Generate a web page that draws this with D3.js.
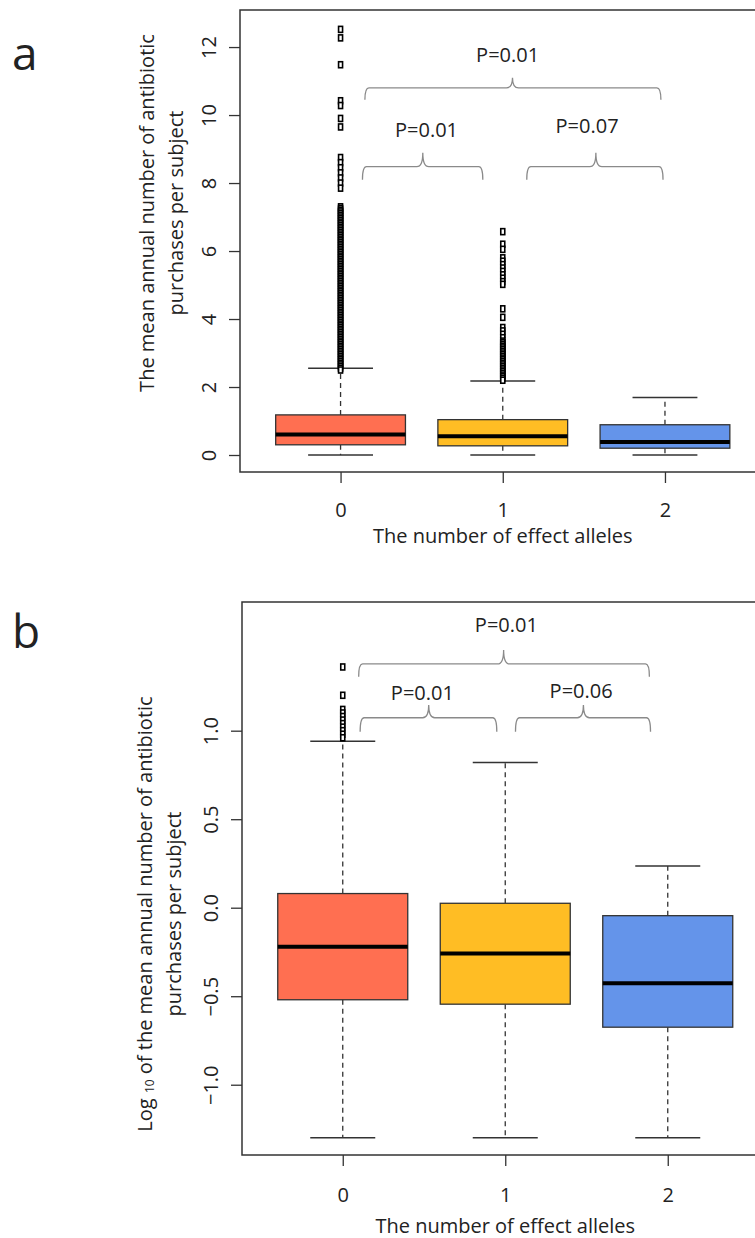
<!DOCTYPE html>
<html>
<head>
<meta charset="utf-8">
<script src="https://cdn.jsdelivr.net/npm/d3@7"></script>
<style>
  body { margin: 0; background: white; }
  text { font-family: "Open Sans", "Noto Sans", sans-serif; fill: #222; }
</style>
</head>
<body>
<div id="container"></div>
<script>
// Boxplots of antibiotic purchases by number of effect alleles (panels a and b)

const width = 755;
const height = 1238;

const groups = ["0", "1", "2"];

// panel a: raw mean annual purchases
const lowA = [0, 0, 0];
const q1A = [0.30, 0.27, 0.20];
const medA = [0.60, 0.55, 0.38];
const q3A = [1.18, 1.04, 0.89];
const highA = [2.55, 2.18, 1.69];
const outA0 = [12.52, 12.27, 11.48, 10.42, 10.28, 9.9, 9.65, 8.75, 8.6, 8.45, 8.3, 8.15, 8.0, 7.85,
  7.3, 7.25, 7.2, 7.15, 7.1, 7.05, 7.0, 6.95, 6.9, 6.85, 6.8, 6.75, 6.7, 6.65, 6.6, 6.55, 6.5,
  6.45, 6.4, 6.35, 6.3, 6.25, 6.2, 6.15, 6.1, 6.05, 6.0, 5.95, 5.9, 5.85, 5.8, 5.75, 5.7, 5.65,
  5.6, 5.55, 5.5, 5.45, 5.4, 5.35, 5.3, 5.25, 5.2, 5.15, 5.1, 5.05, 5.0, 4.95, 4.9, 4.85, 4.8,
  4.75, 4.7, 4.65, 4.6, 4.55, 4.5, 4.45, 4.4, 4.35, 4.3, 4.25, 4.2, 4.15, 4.1,
  4.05, 4.0, 3.95, 3.9, 3.85, 3.8, 3.75, 3.7, 3.65, 3.6, 3.55, 3.5, 3.45, 3.4, 3.35, 3.3, 3.25,
  3.2, 3.15, 3.1, 3.05, 3.0, 2.95, 2.9, 2.85, 2.8, 2.75, 2.7, 2.65, 2.6, 2.55, 2.5];
const outA1 = [6.57, 6.2, 6.05, 5.8, 5.7, 5.6, 5.5, 5.4, 5.3, 5.2, 5.1, 5.02, 4.3, 4.05, 3.75, 3.65,
  3.55, 3.45, 3.35, 3.3, 3.25, 3.2, 3.15, 3.1, 3.05, 3.0, 2.95, 2.9, 2.85, 2.8, 2.75, 2.7, 2.65,
  2.6, 2.55, 2.5, 2.45, 2.4, 2.35, 2.3, 2.25, 2.2];
const outA2 = [];
const yTicksA = [0, 2, 4, 6, 8, 10, 12];
const pValuesA = ["P=0.01", "P=0.01", "P=0.07"];

// panel b: log10 of the same
const lowB = [-1.30, -1.30, -1.30];
const q1B = [-0.52, -0.545, -0.675];
const medB = [-0.22, -0.258, -0.427];
const q3B = [0.08, 0.025, -0.045];
const highB = [0.94, 0.82, 0.236];
const outB0 = [1.36, 1.20, 1.12, 1.10, 1.08, 1.06, 1.04, 1.02, 1.00, 0.98, 0.96];
const outB1 = [];
const outB2 = [];
const yTicksB = [-1.0, -0.5, 0.0, 0.5, 1.0];
const pValuesB = ["P=0.01", "P=0.01", "P=0.06"];

const fills = ["#FF6F51", "#FFBD24", "#6494EA"];
const fontSize = "20px";

const svg = d3.select("#container")
  .append("svg")
  .attr("width", width)
  .attr("height", height)
  .style("background-color", "white");

function bracketPath(x1, x2, yTop, yEnd, xm, yPeak) {
  const r = 4, c = 6;
  return `M${x1},${yEnd} Q${x1},${yTop} ${x1 + r},${yTop} L${xm - c},${yTop} ` +
    `Q${xm},${yTop} ${xm},${yPeak} Q${xm},${yTop} ${xm + c},${yTop} ` +
    `L${x2 - r},${yTop} Q${x2},${yTop} ${x2},${yEnd}`;
}

function drawPanel(p) {
  const x = d3.scaleLinear().domain([-0.62, 2.62]).range([p.left, p.left + 3.24 * p.step]);
  const y = d3.scaleLinear().domain(p.ydom).range([p.bottom, p.top]);
  const g = svg.append("g");

  const boxW = 0.4 * p.step;
  const capW = 0.2 * p.step;

  groups.forEach((grp, i) => {
    const cx = x(i);
    // whiskers
    g.append("line").attr("x1", cx).attr("x2", cx)
      .attr("y1", y(p.q3[i])).attr("y2", y(p.high[i]))
      .attr("stroke", "#333").attr("stroke-width", 1.3).attr("stroke-dasharray", "5,4");
    g.append("line").attr("x1", cx).attr("x2", cx)
      .attr("y1", y(p.q1[i])).attr("y2", y(p.low[i]))
      .attr("stroke", "#333").attr("stroke-width", 1.3).attr("stroke-dasharray", "5,4");
    [p.high[i], p.low[i]].forEach(v => {
      g.append("line").attr("x1", cx - capW).attr("x2", cx + capW)
        .attr("y1", y(v)).attr("y2", y(v))
        .attr("stroke", "#333").attr("stroke-width", 1.5);
    });
    // box
    g.append("rect")
      .attr("x", cx - boxW).attr("width", 2 * boxW)
      .attr("y", y(p.q3[i])).attr("height", y(p.q1[i]) - y(p.q3[i]))
      .attr("fill", fills[i]).attr("stroke", "#333").attr("stroke-width", 1.3);
    g.append("line").attr("x1", cx - boxW).attr("x2", cx + boxW)
      .attr("y1", y(p.med[i])).attr("y2", y(p.med[i]))
      .attr("stroke", "black").attr("stroke-width", 4);
    // outliers
    g.selectAll(null)
      .data(p.out[i])
      .join("rect")
      .attr("x", cx - 2).attr("y", d => y(d) - 3)
      .attr("width", 4).attr("height", 6)
      .attr("fill", "white").attr("stroke", "black").attr("stroke-width", 1.6);
  });

  // frame
  g.append("rect")
    .attr("x", p.left).attr("y", p.top)
    .attr("width", 600).attr("height", p.bottom - p.top)
    .attr("fill", "none").attr("stroke", "#333").attr("stroke-width", 1.5);

  // y axis
  const ya = g.append("g")
    .attr("transform", `translate(${p.left},0)`)
    .call(d3.axisLeft(y).tickValues(p.yticks).tickSize(11).tickFormat(p.yfmt));
  ya.select(".domain").remove();
  ya.selectAll(".tick line").attr("stroke", "#333").attr("stroke-width", 1.3);
  ya.selectAll(".tick text")
    .attr("transform", "rotate(-90)")
    .attr("x", 0).attr("y", -24).attr("dy", 0)
    .attr("text-anchor", "middle")
    .style("font-family", "'Open Sans', sans-serif")
    .style("font-size", fontSize).attr("fill", "#222");

  // x axis
  const xa = g.append("g")
    .attr("transform", `translate(0,${p.bottom})`)
    .call(d3.axisBottom(x).tickValues([0, 1, 2]).tickSize(11).tickFormat(i => groups[i]));
  xa.select(".domain").remove();
  xa.selectAll(".tick line").attr("stroke", "#333").attr("stroke-width", 1.3);
  xa.selectAll(".tick text")
    .attr("y", p.xlabDy).attr("dy", 0)
    .style("font-family", "'Open Sans', sans-serif")
    .style("font-size", fontSize).attr("fill", "#222");

  g.append("text")
    .attr("x", x(1)).attr("y", p.bottom + p.xtitleDy)
    .attr("text-anchor", "middle")
    .style("font-size", fontSize)
    .text("The number of effect alleles");

  // y title, two lines
  const t1 = g.append("text")
    .attr("transform", `translate(${p.ytitleX},${p.ytitleY}) rotate(-90)`)
    .attr("text-anchor", "middle")
    .style("font-size", fontSize);
  p.ytitle1(t1);
  g.append("text")
    .attr("transform", `translate(${p.ytitleX + 29},${p.ytitleY}) rotate(-90)`)
    .attr("text-anchor", "middle")
    .style("font-size", fontSize)
    .text("purchases per subject");

  // comparison brackets
  p.brackets.forEach((b, k) => {
    g.append("path")
      .attr("d", bracketPath(x(b.x1), x(b.x2), y(b.top), y(b.end), x(b.px), y(b.peak)))
      .attr("fill", "none").attr("stroke", "#8a8a8a").attr("stroke-width", 1.3);
    g.append("text")
      .attr("x", x(b.lx)).attr("y", y(b.ly))
      .attr("text-anchor", "middle")
      .style("font-size", fontSize)
      .text(p.pvals[k]);
  });

  // panel letter
  g.append("text")
    .attr("x", 12).attr("y", p.letterY)
    .style("font-size", "46px")
    .text(p.letter);
}

drawPanel({
  letter: "a", letterY: 70,
  left: 240, step: 162.2, top: 10, bottom: 472, ydom: [-0.5, 13.09],
  low: lowA, q1: q1A, med: medA, q3: q3A, high: highA, out: [outA0, outA1, outA2],
  yticks: yTicksA, yfmt: d3.format("d"),
  xlabDy: 45, xtitleDy: 71,
  ytitleX: 154, ytitleY: 213,
  ytitle1: t => t.text("The mean annual number of antibiotic"),
  pvals: pValuesA,
  brackets: [
    { x1: 0.15, x2: 1.975, top: 10.8, end: 10.45, px: 1.06, peak: 11.1, lx: 1.03, ly: 11.57 },
    { x1: 0.135, x2: 0.877, top: 8.48, end: 8.1, px: 0.507, peak: 8.89, lx: 0.53, ly: 9.36 },
    { x1: 1.148, x2: 1.988, top: 8.48, end: 8.1, px: 1.574, peak: 8.89, lx: 1.52, ly: 9.48 }
  ]
});

drawPanel({
  letter: "b", letterY: 648,
  left: 242, step: 162.5, top: 602, bottom: 1155, ydom: [-1.397, 1.727],
  low: lowB, q1: q1B, med: medB, q3: q3B, high: highB, out: [outB0, outB1, outB2],
  yticks: yTicksB, yfmt: d => d3.format(".1f")(d).replace("-", "\u2212"),
  xlabDy: 47, xtitleDy: 78,
  ytitleX: 152, ytitleY: 914,
  ytitle1: t => {
    t.append("tspan").text("Log ");
    t.append("tspan").style("font-size", "12px").attr("dy", 2).text("10");
    t.append("tspan").attr("dy", -2).text(" of the mean annual number of antibiotic");
  },
  pvals: pValuesB,
  brackets: [
    { x1: 0.098, x2: 1.887, top: 1.377, end: 1.305, px: 0.99, peak: 1.456, lx: 1.007, ly: 1.559 },
    { x1: 0.107, x2: 0.948, top: 1.073, end: 0.994, px: 0.529, peak: 1.145, lx: 0.49, ly: 1.173 },
    { x1: 1.063, x2: 1.894, top: 1.073, end: 0.994, px: 1.481, peak: 1.145, lx: 1.467, ly: 1.186 }
  ]
});
</script>
</body>
</html>
